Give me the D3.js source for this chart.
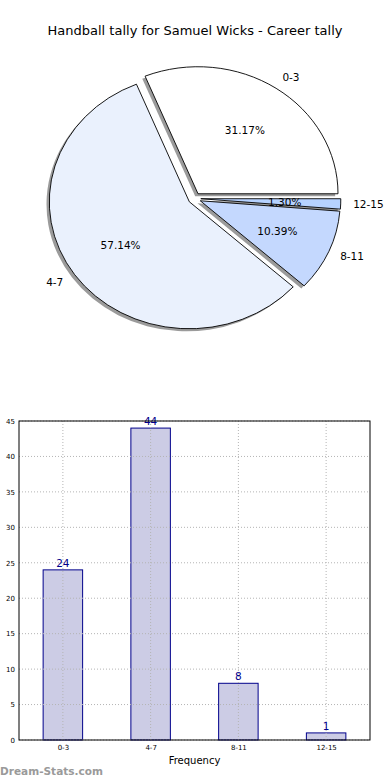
<!DOCTYPE html>
<html><head><meta charset="utf-8">
<script src="https://cdn.jsdelivr.net/npm/d3@7"></script>
<style>body{margin:0;background:#fff}svg{display:block;font-family:"DejaVu Sans",sans-serif}</style>
</head><body><svg id="c" width="390" height="780"></svg>
<script>
const categories = ["0-3", "4-7", "8-11", "12-15"];
const counts = [24, 44, 8, 1];
const sliceColors = ["#ffffff", "#eaf1fd", "#c4d8fe", "#b6d2ff"];
const yTicks = [0, 5, 10, 15, 20, 25, 30, 35, 40, 45];
const title = "Handball tally for Samuel Wicks - Career tally";

const svg = d3.select("#c");
svg.append("text").attr("x", 195).attr("y", 35).attr("text-anchor", "middle")
  .attr("font-size", 13).attr("fill", "#000").text(title);

// ---- Pie ----
const cx = 194.5, cy = 198.5, rx = 140, ry = 127, explode = 0.045;
const total = d3.sum(counts);
const pie = d3.pie().sort(null).startAngle(Math.PI / 2).endAngle(Math.PI / 2 - 2 * Math.PI);
const arcs = pie(counts);
const arc = d3.arc().innerRadius(0).outerRadius(1);
const sx = d3.scaleLinear().domain([-1, 1]).range([cx - rx, cx + rx]);
const sy = d3.scaleLinear().domain([-1, 1]).range([cy - ry, cy + ry]);
function mid(a) { const m = (a.startAngle + a.endAngle) / 2; return [Math.sin(m), -Math.cos(m)]; }

const pg = svg.append("g");
arcs.forEach((a, i) => {
  const [ux, uy] = mid(a);
  const ox = ux * explode - 0.02, oy = uy * explode + 0.02;
  pg.append("path").attr("d", arc(a))
    .attr("transform", `translate(${sx(ox)},${sy(oy)}) scale(${rx},${ry})`)
    .attr("fill", "#7a7a7a").attr("fill-opacity", 0.75);
});
arcs.forEach((a, i) => {
  const [ux, uy] = mid(a);
  const ox = ux * explode, oy = uy * explode;
  pg.append("path").attr("d", arc(a))
    .attr("transform", `translate(${sx(ox)},${sy(oy)}) scale(${rx},${ry})`)
    .attr("fill", sliceColors[i]).attr("stroke", "#000").attr("stroke-width", 0.9)
    .attr("vector-effect", "non-scaling-stroke").attr("stroke-linejoin", "round");
});
arcs.forEach((a, i) => {
  const [ux, uy] = mid(a);
  const lx = ux * (1.1 + explode), ly = uy * (1.1 + explode);
  pg.append("text").attr("x", sx(lx) + (ux > 0 ? -1.5 : 0)).attr("y", sy(ly)).attr("dy", "0.35em")
    .attr("text-anchor", ux > 0 ? "start" : "end").attr("font-size", 10.5).attr("fill", "#000")
    .text(categories[i]);
  const px = ux * (0.6 + explode), py = uy * (0.6 + explode);
  pg.append("text").attr("x", sx(px)).attr("y", sy(py)).attr("dy", "0.35em")
    .attr("text-anchor", "middle").attr("font-size", 10.5).attr("fill", "#000")
    .text((counts[i] / total * 100).toFixed(2) + "%");
});

// ---- Bars ----
const L = 19, R = 370, T = 421, B = 740;
const x = d3.scaleLinear().domain([-0.5, 3.5]).range([L, R]);
const y = d3.scaleLinear().domain([0, 45]).range([B, T]);
const bw = x(0.45) - x(0);
const bg = svg.append("g");
bg.selectAll(".bar").data(counts).join("rect")
  .attr("x", (d, i) => x(i) - bw / 2).attr("width", bw)
  .attr("y", d => y(d)).attr("height", d => B - y(d))
  .attr("fill", "#ccccE5").attr("stroke", "#00008b").attr("stroke-width", 1);
bg.selectAll(".gx").data(categories).join("line")
  .attr("x1", (d, i) => x(i)).attr("x2", (d, i) => x(i)).attr("y1", T).attr("y2", B)
  .attr("stroke", "#b4b4b4").attr("stroke-width", 1).attr("stroke-dasharray", "1,2");
bg.selectAll(".gy").data(yTicks).join("line")
  .attr("x1", L).attr("x2", R).attr("y1", d => y(d)).attr("y2", d => y(d))
  .attr("stroke", "#b4b4b4").attr("stroke-width", 1).attr("stroke-dasharray", "1,2");
bg.selectAll(".val").data(counts).join("text")
  .attr("x", (d, i) => x(i)).attr("y", d => y(d) - 3).attr("text-anchor", "middle")
  .attr("font-size", 10.5).attr("fill", "#00008b").text(d => d);
bg.append("rect").attr("x", L).attr("y", T).attr("width", R - L).attr("height", B - T)
  .attr("fill", "none").attr("stroke", "#000").attr("stroke-width", 1);
const ya = d3.axisLeft(y).tickValues(yTicks).tickSize(0).tickPadding(4);
bg.append("g").attr("transform", `translate(${L},0)`).call(ya)
  .call(g => g.select(".domain").remove())
  .selectAll("text").attr("font-size", 7).attr("fill", "#000").attr("font-family", "DejaVu Sans");
const xa = d3.axisBottom(x).tickValues([0, 1, 2, 3]).tickFormat(i => categories[i]).tickSize(0).tickPadding(5);
bg.append("g").attr("transform", `translate(0,${B})`).call(xa)
  .call(g => g.select(".domain").remove())
  .selectAll("text").attr("font-size", 7).attr("fill", "#000").attr("font-family", "DejaVu Sans");
svg.append("text").attr("x", (L + R) / 2).attr("y", 764).attr("text-anchor", "middle")
  .attr("font-size", 10).attr("fill", "#000").text("Frequency");
svg.append("text").attr("x", 0).attr("y", 775).attr("font-size", 11).attr("font-weight", "600")
  .attr("fill", "#9a9a9a").attr("textLength", 103).attr("lengthAdjust", "spacingAndGlyphs").text("Dream-Stats.com");
</script></body></html>
